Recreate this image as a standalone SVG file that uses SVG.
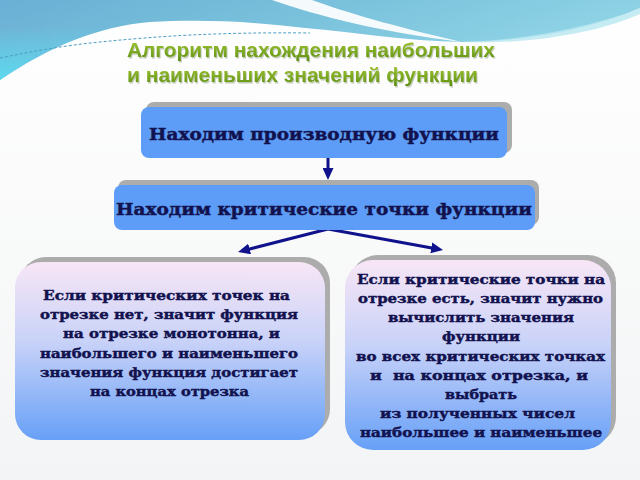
<svg xmlns="http://www.w3.org/2000/svg" width="640" height="480" viewBox="0 0 640 480">
  <defs>
    <linearGradient id="bg" x1="0" y1="0" x2="0" y2="1">
      <stop offset="0" stop-color="#ffffff"/>
      <stop offset="1" stop-color="#f3f4f5"/>
    </linearGradient>
    <linearGradient id="sky" x1="0" y1="0" x2="1" y2="0.4">
      <stop offset="0" stop-color="#6aafd5"/>
      <stop offset="0.45" stop-color="#78c0db"/>
      <stop offset="1" stop-color="#92d6e7"/>
    </linearGradient>
    <linearGradient id="cyanfade" x1="0" y1="0" x2="0" y2="1">
      <stop offset="0" stop-color="#5cd4ec" stop-opacity="0"/>
      <stop offset="1" stop-color="#5cd8ee" stop-opacity="1"/>
    </linearGradient>
    <linearGradient id="title" x1="0" y1="0" x2="0" y2="1">
      <stop offset="0" stop-color="#a6cc34"/>
      <stop offset="1" stop-color="#5f9012"/>
    </linearGradient>
    <linearGradient id="side" x1="0" y1="0" x2="0" y2="1">
      <stop offset="0" stop-color="#f8e6f6"/>
      <stop offset="0.45" stop-color="#c8d2f8"/>
      <stop offset="1" stop-color="#67a0f7"/>
    </linearGradient>
    <filter id="tshadow" x="-5%" y="-20%" width="110%" height="150%">
      <feDropShadow dx="1" dy="1.5" stdDeviation="0.6" flood-color="#7a8a60" flood-opacity="0.45"/>
    </filter>
    <marker id="arrow" markerUnits="userSpaceOnUse" markerWidth="12" markerHeight="11" refX="2" refY="5.5" orient="auto">
      <path d="M0,0 L12,5.5 L0,11 Z" fill="#10128c"/>
    </marker>
    <style>
      .shadow { fill: #acacac; }
      .topbox { fill: #5d9df7; }
      .sidebox { fill: url(#side); }
      .btxt { font-family: "DejaVu Serif", "Liberation Serif", serif; font-weight: bold; fill: #12124f; stroke: #12124f; stroke-width: 0.45; }
      .big { font-size: 17px; }
      .small { font-size: 13.5px; }
      .ttl { font-family: "Liberation Sans", Arial, sans-serif; font-weight: bold; font-size: 21px; fill: url(#title); }
      .conn { stroke: #10128c; stroke-width: 3; fill: none; }
    </style>
  </defs>

  <!-- background -->
  <rect x="0" y="0" width="640" height="480" fill="url(#bg)"/>
  <path d="M0,0 H640 V8 C600,26 530,42 462,42 C405,41 355,32 305,28 C255,22 205,19 150,22 C100,26 50,46 0,80 Z" fill="url(#sky)"/>
  <path d="M0,30 C40,30 80,30 120,26 C80,34 40,52 0,80 Z" fill="url(#cyanfade)"/>
  <path d="M272,0 C318,16 380,32 462,42 C392,26 345,12 312,0 Z" fill="#ffffff" opacity="0.92"/>
  <path d="M462,42 C530,40 600,24 640,8 V14 C600,32 530,45 462,42 Z" fill="#b6e6f0" opacity="0.8"/>
  <path d="M0,58 C30,52 60,46 100,42 C160,36 220,32 310,33" fill="none" stroke="#4f9ec4" stroke-width="1" stroke-dasharray="3 2"/>

  <!-- title -->
  <g id="title" filter="url(#tshadow)">
    <text class="ttl" x="127" y="57" textLength="368" lengthAdjust="spacingAndGlyphs">Алгоритм нахождения наибольших</text>
    <text class="ttl" x="127" y="82" textLength="351" lengthAdjust="spacingAndGlyphs">и наименьших значений функции</text>
  </g>

  <!-- connectors -->
  <g id="connectors">
    <path class="conn" d="M328,158 L328,170" marker-end="url(#arrow)"/>
    <path class="conn" d="M328,229 L247.7,249.5" marker-end="url(#arrow)"/>
    <path class="conn" d="M328,229 L433.2,248.2" marker-end="url(#arrow)"/>
  </g>

  <!-- node 1 -->
  <g id="node-derivative">
    <rect class="shadow" x="146" y="102" width="366" height="51" rx="8"/>
    <rect class="topbox" x="141" y="107" width="366" height="51" rx="8"/>
    <text class="btxt big" x="149" y="140" textLength="350" lengthAdjust="spacingAndGlyphs">Находим производную функции</text>
  </g>

  <!-- node 2 -->
  <g id="node-critical">
    <rect class="shadow" x="118" y="180" width="421" height="45" rx="8"/>
    <rect class="topbox" x="114" y="185" width="421" height="45" rx="8"/>
    <text class="btxt big" x="116" y="215" textLength="416" lengthAdjust="spacingAndGlyphs">Находим критические точки функции</text>
  </g>

  <!-- node left -->
  <g id="node-no-critical">
    <rect class="shadow" x="20" y="257" width="310" height="178" rx="26"/>
    <rect class="sidebox" x="15" y="262" width="310" height="178" rx="26"/>
    <text class="btxt small" x="43" y="300" textLength="247" lengthAdjust="spacingAndGlyphs">Если критических точек на</text>
    <text class="btxt small" x="40" y="319" textLength="258" lengthAdjust="spacingAndGlyphs">отрезке нет, значит функция</text>
    <text class="btxt small" x="63" y="338" textLength="217" lengthAdjust="spacingAndGlyphs">на отрезке монотонна, и</text>
    <text class="btxt small" x="40" y="358" textLength="258" lengthAdjust="spacingAndGlyphs">наибольшего и наименьшего</text>
    <text class="btxt small" x="40" y="377" textLength="258" lengthAdjust="spacingAndGlyphs">значения функция достигает</text>
    <text class="btxt small" x="90" y="396" textLength="159" lengthAdjust="spacingAndGlyphs">на концах отрезка</text>
  </g>

  <!-- node right -->
  <g id="node-has-critical">
    <rect class="shadow" x="350" y="255" width="266" height="190" rx="28"/>
    <rect class="sidebox" x="345" y="260" width="266" height="190" rx="28"/>
    <text class="btxt small" x="357" y="284" textLength="248" lengthAdjust="spacingAndGlyphs">Если критические точки на</text>
    <text class="btxt small" x="358" y="303" textLength="245" lengthAdjust="spacingAndGlyphs">отрезке есть, значит нужно</text>
    <text class="btxt small" x="388" y="322" textLength="186" lengthAdjust="spacingAndGlyphs">вычислить значения</text>
    <text class="btxt small" x="442" y="341" textLength="78" lengthAdjust="spacingAndGlyphs">функции</text>
    <text class="btxt small" x="356" y="361" textLength="249" lengthAdjust="spacingAndGlyphs">во всех критических точках</text>
    <text class="btxt small" x="370" y="380" textLength="218" lengthAdjust="spacingAndGlyphs" xml:space="preserve" style="white-space:pre">и  на концах отрезка, и</text>
    <text class="btxt small" x="445" y="399" textLength="72" lengthAdjust="spacingAndGlyphs">выбрать</text>
    <text class="btxt small" x="380" y="418" textLength="195" lengthAdjust="spacingAndGlyphs">из полученных чисел</text>
    <text class="btxt small" x="360" y="437" textLength="242" lengthAdjust="spacingAndGlyphs">наибольшее и наименьшее</text>
  </g>
</svg>
